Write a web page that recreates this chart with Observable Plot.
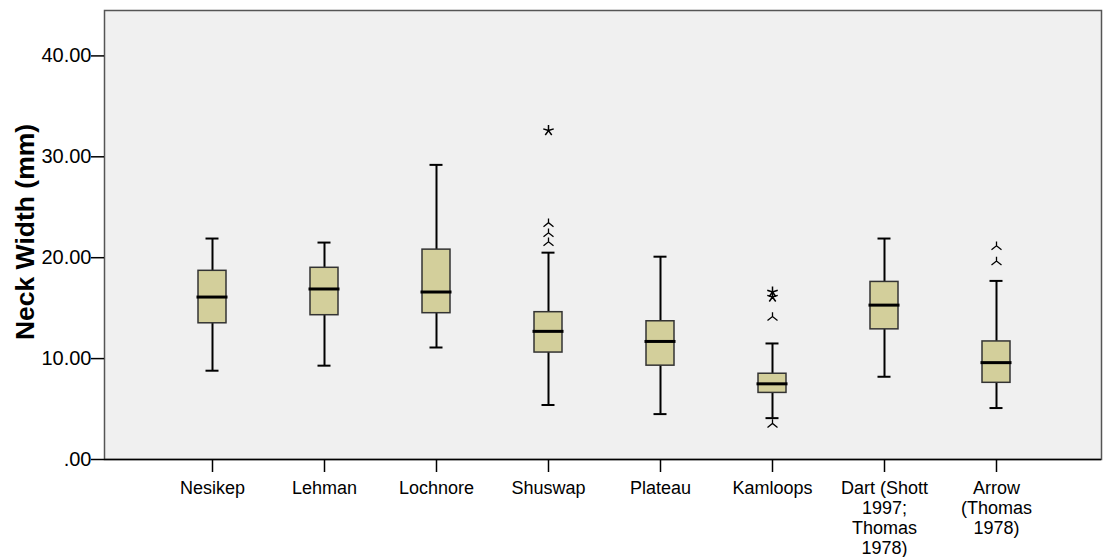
<!DOCTYPE html>
<html>
<head>
<meta charset="utf-8">
<script src="https://cdn.jsdelivr.net/npm/d3@7"></script>
<script src="https://cdn.jsdelivr.net/npm/@observablehq/plot@0.6"></script>
<style>
  body { margin: 0; background: #fff; }
  #chart svg { display: block; }
</style>
</head>
<body>
<div id="chart"></div>
<script>
// ---- data ----
const categories = [
  "Nesikep", "Lehman", "Lochnore", "Shuswap", "Plateau", "Kamloops",
  "Dart (Shott\n1997;\nThomas\n1978)", "Arrow\n(Thomas\n1978)"
];
const whiskerLow  = [8.8, 9.3, 11.1, 5.4, 4.5, 4.1, 8.2, 5.1];
const q1          = [13.5, 14.3, 14.5, 10.6, 9.3, 6.6, 12.9, 7.6];
const median      = [16.1, 16.9, 16.6, 12.7, 11.7, 7.5, 15.3, 9.6];
const q3          = [18.7, 19.0, 20.8, 14.6, 13.7, 8.5, 17.6, 11.7];
const whiskerHigh = [21.9, 21.5, 29.2, 20.5, 20.1, 11.5, 21.9, 17.7];

const outlierCategory = ["Shuswap", "Shuswap", "Shuswap", "Kamloops", "Kamloops",
  "Arrow\n(Thomas\n1978)", "Arrow\n(Thomas\n1978)"];
const outlierValue = [23.4, 22.4, 21.5, 14.1, 3.5, 21.1, 19.6];

const extremeCategory = ["Shuswap", "Kamloops", "Kamloops"];
const extremeValue = [32.6, 16.6, 16.1];

const yTicks = [0, 10, 20, 30, 40];
const yTickLabels = [".00", "10.00", "20.00", "30.00", "40.00"];
const yLabel = "Neck Width (mm)";

// ---- tables built from the arrays ----
const boxes = categories.map((c, i) => ({
  cat: c, low: whiskerLow[i], q1: q1[i], med: median[i], q3: q3[i], high: whiskerHigh[i]
}));
const outliers = outlierCategory.map((c, i) => ({cat: c, v: outlierValue[i]}));
const extremes = extremeCategory.map((c, i) => ({cat: c, v: extremeValue[i]}));
const yTickTable = yTicks.map((v, i) => ({v, label: yTickLabels[i]}));

// custom glyphs resembling SPSS outlier markers
const forkSymbol = {
  draw(ctx, size) {
    const r = Math.sqrt(size / Math.PI);
    ctx.moveTo(0, -r);
    ctx.lineTo(0, -r * 0.15);
    ctx.moveTo(-r, r * 0.65);
    ctx.lineTo(0, -r * 0.15);
    ctx.lineTo(r, r * 0.65);
  }
};
const starSymbol = {
  draw(ctx, size) {
    const r = Math.sqrt(size / Math.PI);
    for (let k = 0; k < 5; k++) {
      const a = -Math.PI / 2 + k * 2 * Math.PI / 5;
      ctx.moveTo(0, 0);
      ctx.lineTo(r * Math.cos(a), r * Math.sin(a));
    }
  }
};

const chart = Plot.plot({
  width: 1103,
  height: 557,
  marginLeft: 104,
  marginRight: 2,
  marginTop: 10,
  marginBottom: 98,
  style: {fontFamily: "'Liberation Sans', Arial, sans-serif", fontSize: "20px", color: "black", background: "white"},
  x: {type: "band", domain: categories, paddingInner: 0, paddingOuter: 0.439, align: 0.516, label: null},
  y: {domain: [0, 44.5], label: null},
  marks: [
    Plot.frame({fill: "#f0f0f0", stroke: "#555", strokeWidth: 1.5}),
    Plot.ruleY([0], {stroke: "black", strokeWidth: 1.5}),
    Plot.axisY({
      ticks: yTicks, tickFormat: () => "",
      tickSize: 13, tickPadding: 1, strokeWidth: 1.5, label: null
    }),
    Plot.text(yTickTable, {
      y: "v", text: "label", frameAnchor: "left", textAnchor: "end", dx: -13,
      fontSize: 20, fill: "black"
    }),
    Plot.axisX({
      tickSize: 13, tickPadding: 7, fontSize: 18, lineHeight: 1.12, strokeWidth: 1.5,
      tickFormat: d => d, label: null
    }),
    Plot.text([yLabel], {
      frameAnchor: "left", textAnchor: "middle", dx: -79, dy: -3, rotate: -90,
      fontSize: 26.5, fontWeight: "bold", fill: "black"
    }),
    // whiskers
    Plot.ruleX(boxes, {x: "cat", y1: "low", y2: "q1", stroke: "black", strokeWidth: 2}),
    Plot.ruleX(boxes, {x: "cat", y1: "q3", y2: "high", stroke: "black", strokeWidth: 2}),
    Plot.tickY(boxes, {x: "cat", y: "low", stroke: "black", strokeWidth: 2, insetLeft: 49.5, insetRight: 49.5}),
    Plot.tickY(boxes, {x: "cat", y: "high", stroke: "black", strokeWidth: 2, insetLeft: 49.5, insetRight: 49.5}),
    // boxes
    Plot.barY(boxes, {x: "cat", y1: "q1", y2: "q3", fill: "#d3cf9b", stroke: "#333", strokeWidth: 1.5, insetLeft: 42, insetRight: 42}),
    Plot.tickY(boxes, {x: "cat", y: "med", stroke: "black", strokeWidth: 3, insetLeft: 40.5, insetRight: 40.5}),
    // outliers
    Plot.dot(outliers, {x: "cat", y: "v", symbol: forkSymbol, r: 5, fill: "none", stroke: "black", strokeWidth: 1.3}),
    Plot.dot(extremes, {x: "cat", y: "v", symbol: starSymbol, r: 5.5, fill: "none", stroke: "black", strokeWidth: 1.5})
  ]
});
document.getElementById("chart").appendChild(chart);
</script>
</body>
</html>
